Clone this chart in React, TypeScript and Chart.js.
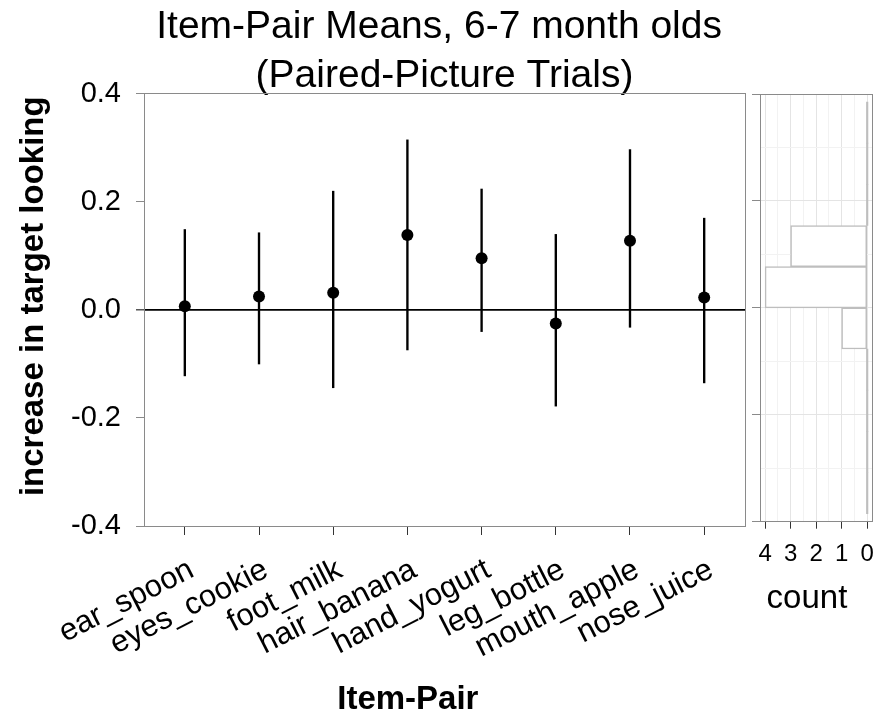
import React, { useEffect, useRef } from 'react';
import { Chart, registerables } from 'chart.js';

Chart.register(...registerables);

const categories = ['ear_spoon', 'eyes_cookie', 'foot_milk', 'hair_banana', 'hand_yogurt', 'leg_bottle', 'mouth_apple', 'nose_juice'];
const means = [0.007, 0.025, 0.032, 0.139, 0.096, -0.025, 0.128, 0.023];
const upper = [0.149, 0.143, 0.22, 0.315, 0.224, 0.14, 0.297, 0.17];
const lower = [-0.122, -0.1, -0.144, -0.074, -0.04, -0.178, -0.032, -0.135];
const yTicks = [-0.4, -0.2, 0, 0.2, 0.4];
const binCenters = [-0.3465, -0.2695, -0.1925, -0.1155, -0.0385, 0.0385, 0.1155, 0.1925, 0.2695, 0.3465];
const binCounts = [0, 0, 0, 0, 1, 4, 3, 0, 0, 0];
const countTicks = [0, 1, 2, 3, 4];

const FONT = '"Liberation Sans", Arial, Helvetica, sans-serif';

const panelBorder = {
  id: 'panelBorder',
  afterDraw(chart: any) {
    const { ctx, chartArea: a } = chart;
    ctx.save();
    ctx.strokeStyle = '#8a8a8a';
    ctx.lineWidth = 1;
    const l = Math.floor(a.left) + 0.5;
    const t = Math.floor(a.top) + 0.5;
    const r = Math.floor(a.right) + 0.5;
    const b = Math.floor(a.bottom) + 0.5;
    ctx.strokeRect(l, t, r - l, b - t);
    ctx.restore();
  },
};

const isZero = (v: number) => Math.abs(v) < 1e-9;
const isMajorY = (v: number) => yTicks.some((t) => Math.abs(t - v) < 1e-9);

export default function App() {
  const mainRef = useRef<HTMLCanvasElement>(null);
  const histRef = useRef<HTMLCanvasElement>(null);

  useEffect(() => {
    const main = new Chart(mainRef.current as HTMLCanvasElement, {
      type: 'bar',
      data: {
        datasets: [
          {
            type: 'scatter',
            data: categories.map((_, i) => ({ x: i + 1, y: means[i] })),
            backgroundColor: '#000',
            borderColor: '#000',
            borderWidth: 0,
            pointRadius: 6,
            pointHoverRadius: 6,
            order: 0,
          } as any,
          {
            type: 'bar',
            data: categories.map((_, i) => ({ x: i + 1, y: [lower[i], upper[i]] })),
            backgroundColor: '#000',
            borderWidth: 0,
            barThickness: 1.7,
            order: 1,
          } as any,
        ],
      },
      options: {
        responsive: false,
        animation: false,
        events: [],
        layout: { padding: { left: 0, right: 149, top: 0, bottom: 0 } },
        plugins: {
          legend: { display: false },
          tooltip: { enabled: false },
          title: {
            display: true,
            fullSize: false,
            text: ['Item-Pair Means, 6-7 month olds ', '(Paired-Picture Trials)'],
            color: '#000',
            font: { family: FONT, size: 39, weight: 'normal', lineHeight: 1.274 },
            padding: { top: 2, bottom: -7.4 },
          },
        },
        scales: {
          x: {
            type: 'linear',
            position: 'bottom',
            min: 0.45,
            max: 8.55,
            offset: false,
            afterBuildTicks: (s: any) => {
              s.ticks = categories.map((_, i) => ({ value: i + 1 }));
            },
            afterFit: (s: any) => {
              s.height = 189;
            },
            ticks: {
              autoSkip: false,
              minRotation: 27,
              maxRotation: 27,
              padding: 16.5,
              labelOffset: 7,
              color: '#000',
              font: { family: FONT, size: 31 },
              callback: (v: any) => categories[Math.round(Number(v)) - 1] ?? '',
            },
            grid: {
              drawOnChartArea: false,
              offset: false,
              tickLength: 9,
              tickColor: '#333',
              tickWidth: 1,
              color: '#333',
            },
            border: { display: false },
            title: {
              display: true,
              text: 'Item-Pair        ',
              color: '#000',
              font: { family: FONT, size: 33, weight: 'bold', lineHeight: 0.9 },
              padding: { top: 0, bottom: 0 },
            },
          },
          y: {
            type: 'linear',
            min: -0.4,
            max: 0.4,
            afterBuildTicks: (s: any) => {
              s.ticks = yTicks.map((v) => ({ value: v }));
            },
            afterFit: (s: any) => {
              s.width = 144;
            },
            ticks: {
              padding: 15,
              color: '#000',
              font: { family: FONT, size: 29 },
              callback: (v: any) => Number(v).toFixed(1),
            },
            grid: {
              drawOnChartArea: true,
              color: (c: any) => (c.tick && isZero(c.tick.value) ? '#000' : 'rgba(0,0,0,0)'),
              lineWidth: (c: any) => (c.tick && isZero(c.tick.value) ? 1.7 : 1),
              tickLength: 8,
              tickColor: (c: any) => (c.tick && isZero(c.tick.value) ? '#000' : '#8a8a8a'),
              tickWidth: 1,
            },
            border: { display: false },
            title: {
              display: true,
              text: '   increase in target looking',
              color: '#000',
              font: { family: FONT, size: 33, weight: 'bold', lineHeight: 1.2 },
              padding: { top: 13.8, bottom: 0 },
            },
          },
        },
      } as any,
      plugins: [panelBorder],
    });

    const countGrid: number[] = [];
    countTicks.forEach((c, i) => {
      countGrid.push(c);
      if (i < countTicks.length - 1) countGrid.push(c + 0.5);
    });
    const yGrid: number[] = [];
    yTicks.forEach((t, i) => {
      yGrid.push(t);
      if (i < yTicks.length - 1) yGrid.push((t + yTicks[i + 1]) / 2);
    });

    const hist = new Chart(histRef.current as HTMLCanvasElement, {
      type: 'bar',
      data: {
        datasets: [
          {
            data: binCenters.map((c, i) => ({ x: binCounts[i], y: c })),
            backgroundColor: (c: any) => (binCounts[c.dataIndex] > 0 ? '#ffffff' : '#bebebe'),
            borderColor: '#bebebe',
            borderWidth: (c: any) => (binCounts[c.dataIndex] > 0 ? 1.5 : 0),
            borderSkipped: false,
            minBarLength: 1.5,
            categoryPercentage: 1,
            barPercentage: 1,
          } as any,
        ],
      },
      options: {
        indexAxis: 'y',
        responsive: false,
        animation: false,
        events: [],
        layout: { padding: { left: 0, right: 21.7, top: 94, bottom: 0 } },
        plugins: { legend: { display: false }, tooltip: { enabled: false } },
        scales: {
          x: {
            type: 'linear',
            position: 'bottom',
            reverse: true,
            min: -0.2,
            max: 4.2,
            afterBuildTicks: (s: any) => {
              s.ticks = countGrid.map((v) => ({ value: v }));
            },
            afterFit: (s: any) => {
              s.height = 193.3;
            },
            ticks: {
              autoSkip: false,
              minRotation: 0,
              maxRotation: 0,
              padding: 11,
              color: '#000',
              font: { family: FONT, size: 24 },
              callback: (v: any) => (Number.isInteger(Number(v)) ? String(v) : ''),
            },
            grid: {
              color: (c: any) => (c.tick && Number.isInteger(c.tick.value) ? '#e4e4e4' : '#f2f2f2'),
              tickColor: (c: any) => (c.tick && Number.isInteger(c.tick.value) ? '#333' : 'rgba(0,0,0,0)'),
              tickLength: 7,
              lineWidth: 1,
              tickWidth: 1,
            },
            border: { display: false },
            title: {
              display: true,
              text: 'count  ',
              color: '#000',
              font: { family: FONT, size: 33, weight: 'normal', lineHeight: 1.2 },
              padding: { top: 0, bottom: 96.6 },
            },
          },
          y: {
            type: 'linear',
            min: -0.4,
            max: 0.4,
            offset: false,
            afterBuildTicks: (s: any) => {
              s.ticks = yGrid.map((v) => ({ value: v }));
            },
            afterFit: (s: any) => {
              s.width = 20;
            },
            ticks: { display: false },
            grid: {
              offset: false,
              color: (c: any) => (c.tick && isMajorY(c.tick.value) ? '#e4e4e4' : '#f2f2f2'),
              tickColor: (c: any) => (c.tick && isMajorY(c.tick.value) ? '#8a8a8a' : 'rgba(0,0,0,0)'),
              tickLength: 8,
              lineWidth: 1,
              tickWidth: 1,
            },
            border: { display: false },
          },
        },
      } as any,
      plugins: [panelBorder],
    });

    return () => {
      main.destroy();
      hist.destroy();
    };
  }, []);

  return (
    <div style={{ position: 'absolute', left: 0, top: 0, width: 894, height: 715, background: '#fff' }}>
      <canvas ref={mainRef} width={894} height={715} style={{ position: 'absolute', left: 0, top: 0 }} />
      <canvas ref={histRef} width={154} height={715} style={{ position: 'absolute', left: 740, top: 0 }} />
    </div>
  );
}
